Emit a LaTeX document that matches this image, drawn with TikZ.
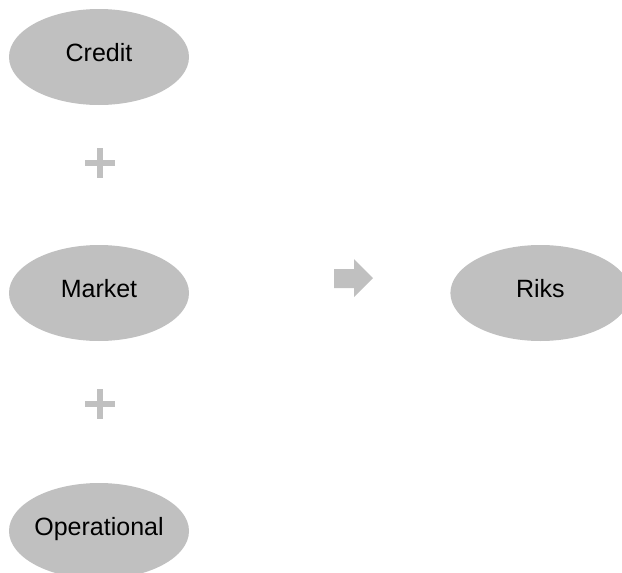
\documentclass[tikz,border=0pt]{standalone}
\usepackage{fontspec}
\setmainfont{Liberation Sans}
\usepackage{xcolor}
\usepackage{tikz}
\usetikzlibrary{shapes, positioning}
\definecolor{shapegray}{RGB}{192,192,192}
\tikzset{
  risknode/.style={ellipse, fill=shapegray, minimum width=180pt, minimum height=96pt, inner sep=-4pt, align=center, text height=18pt, text depth=9pt, font=\fontsize{25}{30}\selectfont},
  plussign/.style={fill=shapegray},
  blockarrow/.style={fill=shapegray}
}
\begin{document}
\begin{tikzpicture}[x=1pt, y=-1pt]
\useasboundingbox (0,0) rectangle (622,573);
\clip (0,0) rectangle (622,573);

% Nodes
\node[risknode] (CR) at (99,57) {Credit};
\node[risknode] (MK) at (99,293) {Market};
\node[risknode] (OP) at (99,531) {Operational};
\node[risknode, right=261pt of MK] (RK) {Riks};

% Signs
\coordinate (P1) at (100,163);
\coordinate (P2) at (100,404);
\coordinate (AR) at (334,278);
\foreach \p in {P1, P2} {
  \fill[plussign] ([shift={(-15,-2.65)}]\p) rectangle ([shift={(15,2.65)}]\p);
  \fill[plussign] ([shift={(-2.65,-15)}]\p) rectangle ([shift={(2.65,15)}]\p);
}
\fill[blockarrow] ([shift={(0,-9)}]AR) -- ([shift={(20,-9)}]AR) -- ([shift={(20,-19)}]AR)
  -- ([shift={(39,0)}]AR) -- ([shift={(20,19)}]AR) -- ([shift={(20,10)}]AR)
  -- ([shift={(0,10)}]AR) -- cycle;

\end{tikzpicture}
\end{document}
